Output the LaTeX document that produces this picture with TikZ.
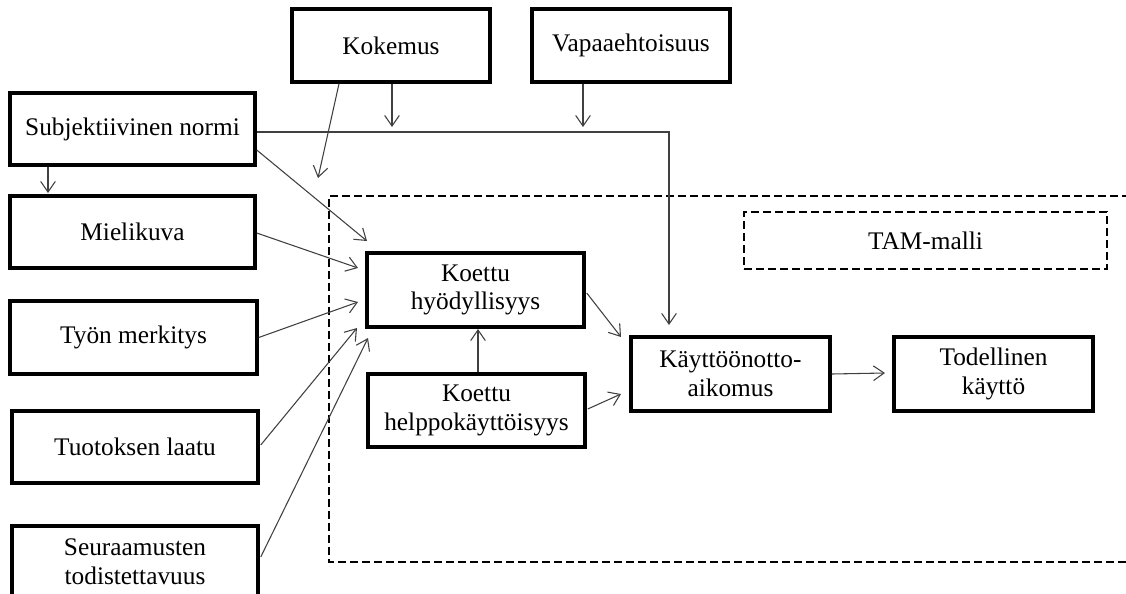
\documentclass[tikz,border=0pt]{standalone}
\usepackage{fontspec}
\setmainfont{Liberation Serif}
\usetikzlibrary{arrows.meta,calc}
\begin{document}
\begin{tikzpicture}[x=0.75pt,y=-0.75pt,
  box/.style={draw=black,line width=2.6pt,fill=white,inner sep=2pt,align=center,
    font=\fontsize{19}{21.5}\selectfont},
  sz/.style 2 args={minimum width=#1*0.75pt,minimum height=#2*0.75pt},
  arr/.style={draw=black!75,line width=0.8pt,-{Straight Barb[length=8pt,width=11pt,line width=0.8pt]}},
  dbox/.style={draw=black,line width=1.7pt,dash pattern=on 6pt off 3pt}]
\useasboundingbox (0,0) rectangle (1126,593);
% big dashed TAM frame
\draw[dbox] (1130,196) -- (329,196) -- (329,562) -- (1130,562);
% nodes
\node[box,sz={198}{73}] (kok) at (391,45.5) {Kokemus};
\node[box,sz={198}{73}] (vap) at (631,45.5) {Vapaaehtoisuus};
\node[box,sz={245}{72}] (subj) at (132.5,129) {Subjektiivinen normi};
\node[box,sz={245}{72}] (miel) at (132.5,232) {Mielikuva};
\node[box,sz={247}{73}] (tyon) at (133.5,337.5) {Työn merkitys};
\node[box,sz={246}{72}] (tuot) at (135,447) {Tuotoksen laatu};
\node[box,sz={246}{72}] (seur) at (135,562) {Seuraamusten\\todistettavuus};
\node[box,sz={217}{74}] (hyod) at (475.5,290) {Koettu\\hyödyllisyys};
\node[box,sz={217}{73}] (help) at (476.5,410.5) {Koettu\\helppokäyttöisyys};
\node[box,sz={199}{74}] (kayt) at (730.5,374) {Käyttöönotto-\\aikomus};
\node[box,sz={199}{74}] (tod) at (993.5,374) {Todellinen\\käyttö};
\node[box,dbox,line width=1.7pt,sz={363}{57}] (tam) at (925.5,240.5) {TAM-malli};
% free arrow ends
\coordinate (t1) at (318,178);
\coordinate (t2) at (392,127);
\coordinate (t3) at (583,127);
\coordinate (t4) at (669,325);
\coordinate (t5) at (367,241);
\coordinate (t6) at (48,193);
\coordinate (t7) at (358,268);
\coordinate (t8) at (358,302);
\coordinate (t9) at (357,328);
\coordinate (t10) at (368,338);
\coordinate (t11) at (478,329);
\coordinate (t12) at (621,337);
\coordinate (t13) at (621,394);
\coordinate (t14) at (885,373);
% connectors
\draw[arr] ($(kok.south)+(-52,0)$) -- (t1);
\draw[arr] ($(kok.south)+(1,0)$) -- (t2);
\draw[arr] ($(vap.south)+(-48,0)$) -- (t3);
\draw[arr] ($(subj.east)+(0,3)$) -| (t4);
\draw[arr] ($(subj.east)+(0,21)$) -- (t5);
\draw[arr] ($(subj.south)+(-84.5,0)$) -- (t6);
\draw[arr] ($(miel.east)+(0,1)$) -- (t7);
\draw[arr] ($(tyon.east)+(0,0)$) -- (t8);
\draw[arr] ($(tuot.east)+(1,-2)$) -- (t9);
\draw[arr] ($(seur.east)+(1,-5)$) -- (t10);
\draw[arr] ($(help.north)+(1.5,0)$) -- (t11);
\draw[arr] ($(hyod.east)+(1,3)$) -- (t12);
\draw[arr] ($(help.east)+(1,-1.5)$) -- (t13);
\draw[arr] (kayt.east) -- (t14);
\end{tikzpicture}
\end{document}
